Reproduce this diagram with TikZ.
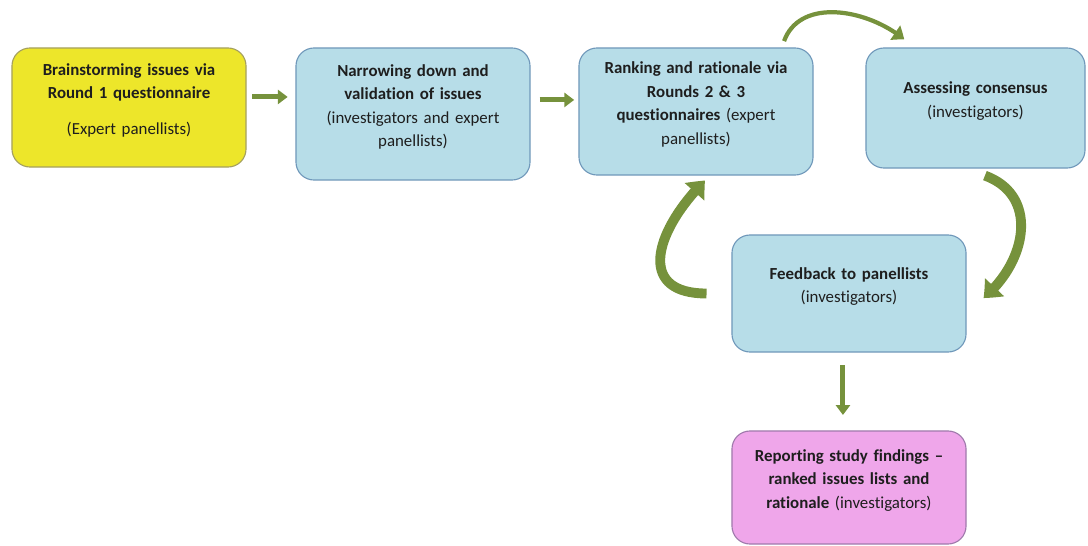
\documentclass[tikz,border=0pt]{standalone}
\usepackage{fontspec}
\setmainfont{Carlito}[Ligatures=NoCommon]
\usetikzlibrary{arrows.meta, bending}

\definecolor{stageyellow}{RGB}{237,230,42}
\definecolor{edgeyellow}{RGB}{165,160,95}
\definecolor{stageblue}{RGB}{183,221,232}
\definecolor{edgeblue}{RGB}{112,152,186}
\definecolor{stagepink}{RGB}{239,166,234}
\definecolor{edgepink}{RGB}{160,122,172}
\definecolor{flowgreen}{RGB}{118,146,60}
\definecolor{inktext}{RGB}{30,30,30}

\tikzset{
    stage/.style={draw, line width=0.8pt, rounded corners=0.45cm, align=center,
        text width=5.85cm-12pt, inner xsep=6pt, inner ysep=0pt, text=inktext,
        font=\fontsize{12}{16.8}\selectfont,
        execute at end node={\rule[-12pt]{0pt}{0pt}}},
    flow/.style={draw=flowgreen, line width=3.5pt, -{Triangle[length=7pt, width=10pt]}},
    loopflow/.style={draw=flowgreen, line width=7pt, -{Triangle[bend, length=11pt, width=18pt]}},
    hopflow/.style={draw=flowgreen, line width=3pt, -{Triangle[bend, length=8pt, width=12pt]}},
}

\begin{document}
\begin{tikzpicture}[x=0.025cm, y=0.025cm]
    \useasboundingbox (0, 0) rectangle (1088, -546);

    % stages of the study
    \node[stage, fill=stageyellow, draw=edgeyellow, minimum height=2.975cm] (brain) at (129, -107.5)
        {\textbf{Brainstorming issues via}\\\textbf{Round 1 questionnaire}\\[9pt](Expert panellists)};
    \node[stage, fill=stageblue, draw=edgeblue, minimum height=3.3cm] (narrow) at (413, -114)
        {\textbf{Narrowing down and}\\\textbf{validation of issues}\\(investigators and expert\\panellists)};
    \node[stage, fill=stageblue, draw=edgeblue, minimum height=3.175cm] (rank) at (696, -111.5)
        {\textbf{Ranking and rationale via}\\\textbf{Rounds 2 \& 3}\\\textbf{questionnaires} (expert\\panellists)};
    \node[stage, fill=stageblue, draw=edgeblue, minimum height=3cm, text width=5.475cm-12pt] (assess) at (975.5, -108)
        {\textbf{Assessing consensus}\\(investigators)};
    \node[stage, fill=stageblue, draw=edgeblue, minimum height=2.925cm] (feed) at (849, -293.5)
        {\textbf{Feedback to panellists}\\(investigators)};
    \node[stage, fill=stagepink, draw=edgepink, minimum height=2.825cm] (report) at (849, -487.5)
        {\textbf{Reporting study findings --}\\\textbf{ranked issues lists and}\\\textbf{rationale} (investigators)};

    % straight arrows
    \draw[flow, shorten <=4pt, shorten >=5.5pt] ([yshift=7.5pt]brain.east) -- ([yshift=7.5pt]brain.east -| narrow.west);
    \draw[flow, shorten <=6.5pt, shorten >=3pt] ([yshift=10pt]narrow.east) -- ([yshift=10pt]narrow.east -| rank.west);
    \draw[flow, shorten <=9pt, shorten >=11pt] ([xshift=-4.3pt]feed.south) -- ([xshift=-4.3pt]feed.south |- report.north);

    % consensus loop
    \draw[hopflow] ([xshift=-21pt, yshift=4.5pt]rank.north east) to[out=70, in=140] ([xshift=27.6pt, yshift=5.7pt]assess.north west);
    \draw[loopflow] ([xshift=6.7pt, yshift=-5pt]assess.south) to[out=-20, in=40, looseness=1.2] ([xshift=12pt, yshift=-3.2pt]feed.east);
    \draw[loopflow] ([xshift=-17.7pt]feed.west) to[out=180, in=225, looseness=1.6] ([xshift=6.4pt, yshift=-3.5pt]rank.south);
\end{tikzpicture}
\end{document}
